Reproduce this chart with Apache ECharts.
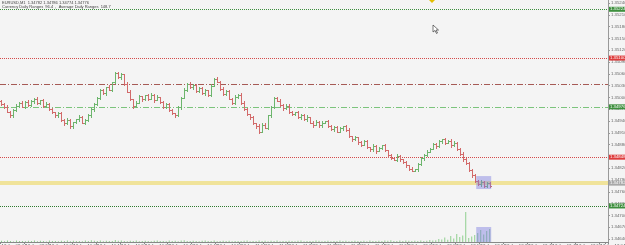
<!DOCTYPE html>
<html><head><meta charset="utf-8">
<script src="https://cdn.jsdelivr.net/npm/echarts@6/dist/echarts.min.js"></script>
<style>html,body{margin:0;padding:0;background:#f4f4f4;}#c{width:625px;height:245px;}</style>
</head><body><div id="c"></div>
<script>
const symbolTitle = 'EURUSD,M1  1.34782 1.34786 1.34774 1.34776';
const indicatorTitle = 'Currency Daily Ranges  96.4  ,  Average Daily Ranges  148.7';
const firstOpen = 1.34990;
const closes = [
1.34983,1.34976,1.34964,1.34954,1.34967,1.34979,1.34987,1.34976,1.34989,1.34981,
1.34991,1.34996,1.34985,1.34993,1.34979,1.34984,1.34970,1.34962,1.34954,1.34960,
1.34942,1.34934,1.34943,1.34927,1.34937,1.34944,1.34950,1.34936,1.34942,1.34954,
1.34971,1.34983,1.34999,1.35018,1.35010,1.35026,1.35020,1.35038,1.35061,1.35051,
1.35059,1.35035,1.35015,1.34995,1.34979,1.34987,1.35003,1.34995,1.35005,1.34997,
1.35006,1.34994,1.35001,1.34989,1.34976,1.34983,1.34967,1.34960,1.34954,1.34976,
1.34999,1.35020,1.35034,1.35026,1.35032,1.35016,1.35024,1.35010,1.35018,1.35007,
1.35030,1.35048,1.35040,1.35022,1.35009,1.35016,1.34996,1.34987,1.35001,1.35007,
1.34986,1.34971,1.34957,1.34950,1.34934,1.34928,1.34913,1.34931,1.34923,1.34954,
1.34976,1.34999,1.34991,1.34981,1.34973,1.34979,1.34964,1.34957,1.34962,1.34950,
1.34956,1.34944,1.34950,1.34936,1.34931,1.34938,1.34929,1.34936,1.34940,1.34927,
1.34919,1.34925,1.34913,1.34921,1.34927,1.34917,1.34901,1.34893,1.34899,1.34886,
1.34880,1.34888,1.34874,1.34868,1.34876,1.34864,1.34872,1.34878,1.34866,1.34853,
1.34845,1.34841,1.34851,1.34843,1.34835,1.34827,1.34819,1.34814,1.34817,1.34831,
1.34845,1.34853,1.34862,1.34870,1.34882,1.34876,1.34888,1.34893,1.34884,1.34890,
1.34878,1.34884,1.34870,1.34856,1.34843,1.34833,1.34815,1.34802,1.34788,1.34780,
1.34786,1.34774,1.34782,1.34776];
// wick sizes above / below the body, in points (0.00001)
const wickHi = [
3,2,4,1,3,5,2,3,1,4,2,3,5,1,2,4,3,2,1,3,
4,2,5,3,1,2,4,3,2,5,1,3,2,4,3,1,5,2,3,4,
2,1,3,5,2,4,3,1,2,3,4,2,5,1,3,2,4,3,1,2,
3,5,2,4,1,3,2,3,4,1,5,2,3,1,4,2,3,2,5,1,
3,4,2,1,3,2,5,3,4,1,2,3,1,4,2,5,3,2,1,4,
3,2,4,1,3,5,2,3,1,2,4,3,2,5,1,3,4,2,3,1,
2,4,3,1,5,2,3,2,4,1,3,2,5,3,1,4,2,3,1,2,
4,3,5,2,1,3,4,2,3,2,5,4,3,2,4,3,2,3,4,2,
3,2,4,3];
const wickLo = [
2,4,1,3,5,2,3,1,4,2,3,5,1,2,4,3,2,1,3,4,
1,3,2,4,5,1,3,2,4,1,3,5,2,3,1,4,2,3,1,2,
4,3,1,2,5,3,2,4,1,3,2,5,1,4,3,2,1,3,4,2,
5,1,3,2,4,3,1,2,5,3,4,1,2,3,2,4,1,5,3,2,
2,3,1,4,2,5,3,1,2,4,3,2,1,3,5,2,4,1,3,2,
4,2,3,1,5,2,3,4,1,2,3,5,2,1,4,3,2,3,1,4,
3,1,2,4,3,5,1,2,3,4,2,1,3,5,2,4,3,1,2,3,
2,4,3,1,2,5,3,4,2,1,3,2,4,3,5,2,3,4,2,3,
4,3,2,5];
const volumes = [
12,8,15,10,6,14,9,11,7,13,10,16,8,12,9,6,14,11,10,7,13,9,15,8,12,10,11,7,14,9,18,12,10,15,8,13,11,9,20,12,
14,10,8,12,9,15,7,11,13,10,8,12,16,9,11,7,14,10,12,8,15,18,11,9,13,10,7,12,14,9,11,16,8,10,13,9,12,7,11,10,
9,12,14,8,10,11,15,9,13,7,12,10,16,8,11,9,13,10,7,12,14,8,10,11,9,15,12,8,10,13,7,11,9,14,10,12,8,11,13,9,
10,12,8,14,11,9,13,10,15,12,18,9,11,14,10,16,12,9,13,11,15,10,12,20,14,18,30,25,45,22,60,35,80,50,65,300,40,55,70,90,
120,75,110,130];
const timeLabels = ['12 Jun 09:44','12 Jun 09:52','12 Jun 10:00','12 Jun 10:08','12 Jun 10:16','12 Jun 10:24','12 Jun 10:32',
'12 Jun 10:40','12 Jun 10:48','12 Jun 10:56','12 Jun 11:04','12 Jun 11:12','12 Jun 11:20','12 Jun 11:28','12 Jun 11:36',
'12 Jun 11:44','12 Jun 11:52','12 Jun 12:00','12 Jun 12:08','12 Jun 12:16','12 Jun 12:24','12 Jun 12:32','12 Jun 12:40',
'12 Jun 12:48','12 Jun 12:56','12 Jun 13:04'];
const levels = [
  {value:1.35224, color:'#3d8f3d', type:'dotted', box:'#3d8f3d'},
  {value:1.35100, color:'#d44a4a', type:'dotted', box:'#de3c3c'},
  {value:1.35034, color:'#a65a55', type:[6,2,1,2], box:null},
  {value:1.34976, color:'#7cc47c', type:[6,2,1,2], box:'#3d8f3d'},
  {value:1.34848, color:'#d44a4a', type:'dotted', box:'#de3c3c'},
  {value:1.34724, color:'#2f7a2f', type:'dotted', box:'#3d8f3d'}
];
const bidLevel = 1.34782;
// selected range: [first bar, last bar, low, high]
const priceSelection = [159, 163, 1.34767, 1.34800];
const volumeSelection = [159, 163, 0, 150];

const TOTAL_SLOTS = 203;
const cats = Array.from({length: TOTAL_SLOTS}, (_, i) => String(i));
const ohlc = closes.map((c, i) => {
  const o = i === 0 ? firstOpen : closes[i-1];
  const h = +(Math.max(o, c) + wickHi[i] * 1e-5).toFixed(5);
  const l = +(Math.min(o, c) - wickLo[i] * 1e-5).toFixed(5);
  return [i, o, h, l, c];
});

const chart = echarts.init(document.getElementById('c'), null, {renderer:'canvas'});
const FONT = 'Liberation Sans';
const labelFont = {fontSize:4.3, fontFamily:FONT, color:'#666'};
const boxLabel = (v, bg) => ({show:true, position:'end', distance:1, formatter: () => v.toFixed(5),
    fontSize:4.3, fontFamily:FONT, color:'#fff', backgroundColor:bg, padding:[1,1,0,1]});

const markLineData = [{yAxis: bidLevel, lineStyle:{color:'#f0e39a', type:'solid', width:4}, label: boxLabel(bidLevel, '#a8a8a8')}];
levels.forEach(L => markLineData.push({
  yAxis: L.value,
  lineStyle: {color: L.color, type: L.type, width: 1},
  label: L.box ? boxLabel(L.value, L.box) : {show:false}
}));

const selRender = (params, api) => {
  const p1 = api.coord([api.value(0), api.value(3)]);
  const p2 = api.coord([api.value(1), api.value(2)]);
  const bw = api.size([1, 0])[0];
  return {type:'rect', shape:{x: p1[0] - bw/2, y: p1[1], width: p2[0] - p1[0] + bw, height: p2[1] - p1[1]},
    style:{fill:'rgba(125,125,225,0.45)'}};
};

chart.setOption({
  animation:false,
  backgroundColor:'#f4f4f4',
  grid:[
    {left:0, right:17, top:0, bottom:6, containLabel:false, outerBoundsMode:'none'},
    {left:0, right:17, bottom:3, height:30, containLabel:false, outerBoundsMode:'none'}
  ],
  xAxis:[
    {type:'category', data:cats, gridIndex:0, show:false, boundaryGap:true},
    {type:'category', data:cats, gridIndex:1, boundaryGap:true,
     axisLine:{lineStyle:{color:'#888', width:1}},
     axisTick:{show:true, interval:7, length:2, lineStyle:{color:'#888'}},
     axisLabel:{interval:0, margin:2, align:'left', hideOverlap:false, ...labelFont, color:'#555',
       formatter:(v, idx) => (idx % 8 === 0 && timeLabels[idx/8]) ? timeLabels[idx/8] : ''}}
  ],
  yAxis:[
    {type:'value', gridIndex:0, position:'right', min:1.3464, max:1.3524763, interval:0.0003,
     axisLine:{show:true, lineStyle:{color:'#999'}},
     axisTick:{show:true, length:2, lineStyle:{color:'#999'}},
     splitLine:{show:false},
     axisLabel:{show:true, margin:3, showMaxLabel:false, showMinLabel:true, overflow:'none', ...labelFont,
       formatter: v => v.toFixed(5)}},
    {type:'value', gridIndex:1, position:'right', min:0, max:300,
     axisLine:{show:true, lineStyle:{color:'#999'}}, axisTick:{show:false},
     axisLabel:{show:false}, splitLine:{show:false}}
  ],
  series:[
    {type:'line', xAxisIndex:0, yAxisIndex:0, data:closes, silent:true, showSymbol:false, symbol:'none',
     lineStyle:{opacity:0}, z:1,
     markLine:{symbol:['none','none'], precision:5, silent:true, animation:false, z:1, data:markLineData}},
    {type:'custom', xAxisIndex:0, yAxisIndex:0, data:ohlc, encode:{x:0, y:[1,2,3,4]}, z:3, clip:false,
     renderItem:(params, api) => {
       const i = api.value(0), o = api.value(1), h = api.value(2), l = api.value(3), c = api.value(4);
       const pO = api.coord([i, o]), pH = api.coord([i, h]), pL = api.coord([i, l]), pC = api.coord([i, c]);
       const x = Math.round(pO[0]) + 0.5;
       const color = c >= o ? '#6db56d' : '#d26a6a';
       const st = {stroke:color, lineWidth:1};
       return {type:'group', children:[
         {type:'line', shape:{x1:x, y1:Math.round(pH[1]), x2:x, y2:Math.round(pL[1])+1}, style:st},
         {type:'line', shape:{x1:x-1.5, y1:Math.round(pO[1])+0.5, x2:x, y2:Math.round(pO[1])+0.5}, style:st},
         {type:'line', shape:{x1:x, y1:Math.round(pC[1])+0.5, x2:x+1.5, y2:Math.round(pC[1])+0.5}, style:st}
       ]};
     }},
    {type:'custom', xAxisIndex:0, yAxisIndex:0, data:[priceSelection], encode:{x:[0,1], y:[2,3]}, z:4,
     silent:true, renderItem: selRender},
    {type:'bar', xAxisIndex:1, yAxisIndex:1, data:volumes, barWidth:1, itemStyle:{color:'#8fcf8f'}},
    {type:'custom', xAxisIndex:1, yAxisIndex:1, data:[volumeSelection], encode:{x:[0,1], y:[2,3]}, z:4,
     silent:true, renderItem: selRender}
  ],
  graphic:[
    {type:'text', left:2, top:1, style:{text:symbolTitle, fontSize:4, fontFamily:FONT, fill:'#444'}},
    {type:'text', left:2, top:5, style:{text:indicatorTitle, fontSize:4, fontFamily:FONT, fill:'#444'}},
    {type:'polygon', shape:{points:[[429,0],[435,0],[432,3]]}, style:{fill:'#e2bd00'}},
    {type:'polygon', shape:{points:[[433,25],[433,32],[435,30.5],[436.5,33.5],[437.5,33],[436,30],[438.5,30]]},
     style:{fill:'#fff', stroke:'#222', lineWidth:0.6}}
  ]
});
</script></body></html>
